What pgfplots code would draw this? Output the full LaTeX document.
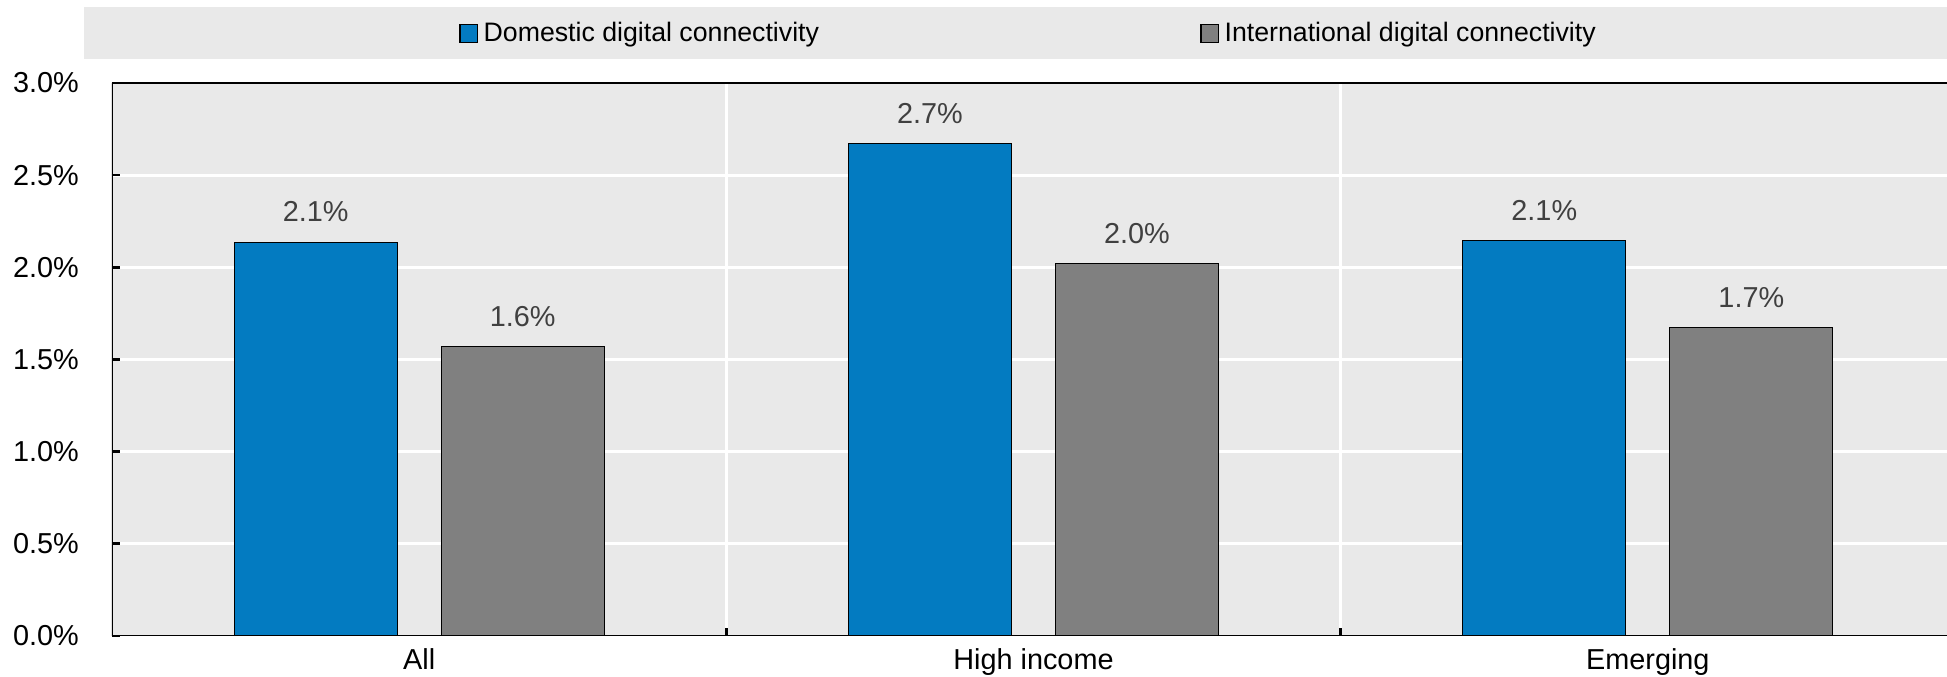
\documentclass[border=0pt]{standalone}
\usepackage{fontspec}
\setmainfont{Liberation Sans}
\usepackage{pgfplots}
\pgfplotsset{compat=1.18}
\definecolor{oblue}{RGB}{3,123,193}
\definecolor{ogray}{RGB}{128,128,128}
\definecolor{bggray}{RGB}{233,233,233}
\definecolor{lblgray}{RGB}{64,64,64}
\begin{document}
\begin{tikzpicture}
\useasboundingbox (-41.94pt,-15.35pt) rectangle (687.2pt,238.18pt);
\fill[bggray] (-10.49pt,216.09pt) rectangle (687.2pt,235.56pt);
\begin{axis}[
  at={(0pt,0pt)}, anchor=south west,
  scale only axis, width=687.2pt, height=207.1pt,
  ybar, bar width=0.2653,
  xmin=-0.5, xmax=2.487, ymin=0, ymax=3,
  axis background/.style={fill=bggray},
  axis line style={draw=none},
  xtick={0,1,2}, xticklabels={All, High income, Emerging},
  minor xtick={0.5,1.5},
  ytick={0,0.5,1,1.5,2,2.5,3},
  xminorgrids, ymajorgrids,
  grid style={white, line width=1.1pt},
  minor grid style={white, line width=1.1pt},
  ytick pos=left, xtick pos=bottom, tick align=inside,
  major tick length=3pt, minor tick length=3pt,
  tick style={black, line width=1pt},
  major x tick style={draw=none},
  /pgf/number format/assume math mode=true,
  tick label style={font=\fontsize{10.8}{13}\selectfont},
  yticklabel={\pgfmathprintnumber[fixed,fixed zerofill,precision=1]{\tick}\%},
  yticklabel style={anchor=east, xshift=-8.9pt},
  xticklabel style={anchor=base, yshift=-12.4pt},
  nodes near coords={\pgfmathprintnumber[fixed,fixed zerofill,precision=1]{\pgfplotspointmeta}\%},
  nodes near coords style={anchor=base, yshift=7.7pt, text=lblgray, font=\fontsize{10.8}{13}\selectfont},
  legend columns=2,
  legend style={at={(0.5004,1.0894)}, anchor=center, draw=none, fill=none,
    /tikz/every even column/.append style={column sep=140.8pt}},
  legend image code/.code={\draw[#1, draw=black, line width=0.5pt] (0pt,-3.3pt) rectangle (6.6pt,3.3pt);},
]
\addplot[fill=oblue, draw=black, line width=0.4pt, bar shift=-0.1685] coordinates {(0,2.136) (1,2.670) (2,2.143)};
\addlegendentry{Domestic digital connectivity}
\addplot[fill=ogray, draw=black, line width=0.4pt, bar shift=0.1685] coordinates {(0,1.570) (1,2.020) (2,1.673)};
\addlegendentry{International digital connectivity}
\draw[line width=1pt] (rel axis cs:0,1) -- (rel axis cs:0,0) -- (rel axis cs:1,0);
\draw[line width=1pt] (rel axis cs:0,1) -- (rel axis cs:1,1);
\end{axis}
\end{tikzpicture}
\end{document}
